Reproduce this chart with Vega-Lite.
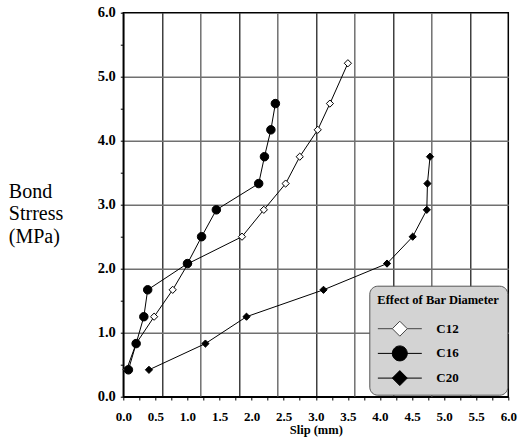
{
  "$schema": "https://vega.github.io/schema/vega-lite/v6.json",
  "width": 385,
  "height": 384,
  "autosize": {"type": "none"},
  "padding": {"left": 123.3, "top": 12.7, "right": 9.7, "bottom": 46.3},
  "background": "white",
  "config": {"view": {"stroke": "black", "strokeWidth": 1.5}, "font": "Liberation Serif"},
  "data": {
    "values": [
      {"series": "C12", "slip": 0.05, "stress": 0.42},
      {"series": "C12", "slip": 0.2, "stress": 0.83},
      {"series": "C12", "slip": 0.48, "stress": 1.25},
      {"series": "C12", "slip": 0.77, "stress": 1.67},
      {"series": "C12", "slip": 1.01, "stress": 2.08},
      {"series": "C12", "slip": 1.85, "stress": 2.5},
      {"series": "C12", "slip": 2.19, "stress": 2.92},
      {"series": "C12", "slip": 2.53, "stress": 3.33},
      {"series": "C12", "slip": 2.75, "stress": 3.75},
      {"series": "C12", "slip": 3.03, "stress": 4.17},
      {"series": "C12", "slip": 3.22, "stress": 4.58},
      {"series": "C12", "slip": 3.5, "stress": 5.21},
      {"series": "C16", "slip": 0.08, "stress": 0.42},
      {"series": "C16", "slip": 0.2, "stress": 0.83},
      {"series": "C16", "slip": 0.32, "stress": 1.25},
      {"series": "C16", "slip": 0.38, "stress": 1.67},
      {"series": "C16", "slip": 1.0, "stress": 2.08},
      {"series": "C16", "slip": 1.22, "stress": 2.5},
      {"series": "C16", "slip": 1.45, "stress": 2.92},
      {"series": "C16", "slip": 2.11, "stress": 3.33},
      {"series": "C16", "slip": 2.2, "stress": 3.75},
      {"series": "C16", "slip": 2.3, "stress": 4.17},
      {"series": "C16", "slip": 2.37, "stress": 4.58},
      {"series": "C20", "slip": 0.4, "stress": 0.42},
      {"series": "C20", "slip": 1.28, "stress": 0.83},
      {"series": "C20", "slip": 1.92, "stress": 1.25},
      {"series": "C20", "slip": 3.12, "stress": 1.67},
      {"series": "C20", "slip": 4.11, "stress": 2.08},
      {"series": "C20", "slip": 4.51, "stress": 2.5},
      {"series": "C20", "slip": 4.73, "stress": 2.92},
      {"series": "C20", "slip": 4.74, "stress": 3.33},
      {"series": "C20", "slip": 4.78, "stress": 3.75}
    ]
  },
  "encoding": {
    "x": {
      "field": "slip", "type": "quantitative",
      "scale": {"domain": [0, 6], "nice": false},
      "axis": {
        "title": "Slip (mm)",
        "values": [0, 0.25, 0.5, 0.6, 0.75, 1, 1.2, 1.25, 1.5, 1.75, 1.8, 2, 2.25, 2.4, 2.5, 2.75, 3, 3.25, 3.5, 3.6, 3.75, 4, 4.2, 4.25, 4.5, 4.75, 4.8, 5, 5.25, 5.4, 5.5, 5.75, 6],
        "labelExpr": "abs(datum.value * 2 - round(datum.value * 2)) < 0.001 ? format(datum.value, '.1f') : ''",
        "labelOverlap": false,
        "labelFlush": false,
        "labelFont": "Liberation Serif",
        "labelFontWeight": "bold",
        "labelFontSize": 13,
        "labelColor": "black",
        "labelPadding": 10,
        "tickSize": 3.3,
        "tickColor": "black",
        "tickWidth": 1,
        "tickOpacity": {"condition": {"test": "abs(datum.value * 4 - round(datum.value * 4)) < 0.001", "value": 1}, "value": 0},
        "domainColor": "black",
        "domainWidth": 1.5,
        "grid": true,
        "gridColor": {"condition": {"test": "round(datum.value / 0.6) % 2 === 1", "value": "#111111"}, "value": "#707070"},
        "gridWidth": {"condition": {"test": "round(datum.value / 0.6) % 2 === 1", "value": 1.2}, "value": 1.5},
        "gridOpacity": {"condition": {"test": "abs(datum.value / 0.6 - round(datum.value / 0.6)) < 0.001 && datum.value > 0.1 && datum.value < 5.9", "value": 1}, "value": 0},
        "titleFont": "Liberation Serif",
        "titleFontWeight": "bold",
        "titleFontSize": 12.5,
        "titleColor": "black",
        "titleBaseline": "alphabetic",
        "titleY": 37
      }
    },
    "y": {
      "field": "stress", "type": "quantitative",
      "scale": {"domain": [0, 6], "nice": false},
      "axis": {
        "title": ["Bond", "Strress", "(MPa)"],
        "values": [0, 0.5, 1, 1.5, 2, 2.5, 3, 3.5, 4, 4.5, 5, 5.5, 6],
        "labelExpr": "datum.value % 1 === 0 ? format(datum.value, '.1f') : ''",
        "labelOverlap": false,
        "labelFlush": false,
        "labelFont": "Liberation Serif",
        "labelFontWeight": "bold",
        "labelFontSize": 14.5,
        "labelColor": "black",
        "labelPadding": 5,
        "tickSize": 3,
        "tickColor": "black",
        "tickWidth": 1,
        "domainColor": "black",
        "domainWidth": 1.5,
        "grid": true,
        "gridColor": "#707070",
        "gridWidth": 1.5,
        "gridOpacity": {"condition": {"test": "datum.value % 1 === 0 && datum.value > 0.1 && datum.value < 5.9", "value": 1}, "value": 0},
        "titleFont": "Liberation Serif",
        "titleFontWeight": "normal",
        "titleFontSize": 20,
        "titleColor": "black",
        "titleAngle": 0,
        "titleAlign": "left",
        "titleBaseline": "alphabetic",
        "titleX": -115,
        "titleY": 184.6,
        "titleLineHeight": 22.5
      }
    }
  },
  "layer": [
    {
      "mark": {"type": "line", "color": "black", "strokeWidth": 1},
      "encoding": {
        "detail": {"field": "series"},
        "order": {"field": "stress", "type": "quantitative"}
      }
    },
    {
      "transform": [{"filter": "datum.series === 'C12'"}],
      "mark": {"type": "point", "shape": "M0,-0.85L0.85,0L0,0.85L-0.85,0Z", "filled": true, "fill": "white", "stroke": "black", "strokeWidth": 1, "size": 72, "opacity": 1}
    },
    {
      "transform": [{"filter": "datum.series === 'C16'"}],
      "mark": {"type": "point", "shape": "circle", "filled": true, "fill": "black", "stroke": "black", "strokeWidth": 1, "size": 72, "opacity": 1}
    },
    {
      "transform": [{"filter": "datum.series === 'C20'"}],
      "mark": {"type": "point", "shape": "M0,-0.85L0.85,0L0,0.85L-0.85,0Z", "filled": true, "fill": "black", "stroke": "black", "strokeWidth": 1, "size": 72, "opacity": 1}
    },
    {
      "transform": [{"filter": "false"}],
      "mark": {"type": "point", "filled": true, "strokeWidth": 1, "opacity": 1},
      "encoding": {
        "fill": {
          "field": "series", "type": "nominal",
          "scale": {"domain": ["C12", "C16", "C20"], "range": ["white", "black", "black"]}
        },
        "stroke": {
          "field": "series", "type": "nominal",
          "scale": {"domain": ["C12", "C16", "C20"], "range": ["#444444", "black", "black"]}
        },
        "shape": {
          "field": "series", "type": "nominal",
          "scale": {"domain": ["C12", "C16", "C20"], "range": ["M-1,0L-0.34,0M0.34,0L1,0M-0.34,0L0,-0.34L0.34,0L0,0.34Z", "M-1,0L1,0M-0.34,0A0.34,0.34,0,1,0,0.34,0A0.34,0.34,0,1,0,-0.34,0Z", "M-1,0L1,0M-0.34,0L0,-0.34L0.34,0L0,0.34Z"]},
          "legend": {
            "orient": "none",
            "legendX": 246,
            "legendY": 273,
            "title": "Effect of Bar Diameter",
            "titleFont": "Liberation Serif",
            "titleFontWeight": "bold",
            "titleFontSize": 12.5,
            "titleColor": "black",
            "titlePadding": 14,
            "labelFont": "Liberation Serif",
            "labelFontWeight": "bold",
            "labelFontSize": 13,
            "labelColor": "black",
            "labelOffset": 14,
            "symbolSize": 1936,
            "clipHeight": 17,
            "rowPadding": 7.7,
            "padding": 8,
            "fillColor": "#d3d3d3",
            "strokeColor": "#555555",
            "cornerRadius": 8,
            "symbolStrokeWidth": 1
          }
        }
      }
    }
  ]
}
